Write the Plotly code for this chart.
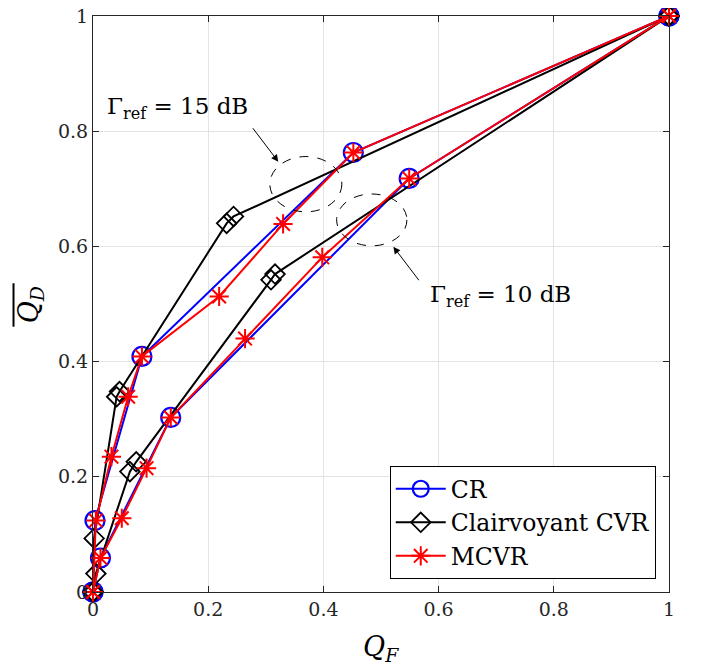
import plotly.graph_objects as go

# ---- data ----
cr15_x = [0, 0.0035, 0.085, 0.452, 1.0]
cr15_y = [0, 0.124, 0.409, 0.763, 1.0]
cr10_x = [0, 0.013, 0.135, 0.549, 1.0]
cr10_y = [0, 0.059, 0.303, 0.718, 1.0]

cvr15_x = [0, 0.002, 0.041, 0.046, 0.232, 0.244, 1.0]
cvr15_y = [0, 0.093, 0.339, 0.348, 0.640, 0.652, 1.0]
cvr10_x = [0, 0.005, 0.064, 0.075, 0.309, 0.316, 1.0]
cvr10_y = [0, 0.032, 0.209, 0.226, 0.542, 0.552, 1.0]

mcvr15_x = [0, 0.005, 0.032, 0.061, 0.085, 0.219, 0.330, 0.452, 1.0]
mcvr15_y = [0, 0.124, 0.235, 0.339, 0.409, 0.513, 0.639, 0.763, 1.0]
mcvr10_x = [0, 0.013, 0.050, 0.093, 0.135, 0.264, 0.398, 0.549, 1.0]
mcvr10_y = [0, 0.059, 0.128, 0.215, 0.303, 0.440, 0.581, 0.718, 1.0]

tick_vals = [0, 0.2, 0.4, 0.6, 0.8, 1.0]
tick_text = ["0", "0.2", "0.4", "0.6", "0.8", "1"]

series_names = ["CR", "Clairvoyant CVR", "MCVR"]
label15 = "Γ<sub>ref</sub> = 15 dB"
label10 = "Γ<sub>ref</sub> = 10 dB"

FONT = "DejaVu Serif"

fig = go.Figure()

styles = [
    (series_names[0], "#0000ff", dict(symbol="circle-open", size=19, line=dict(width=2.2, color="#0000ff")),
     [(cr15_x, cr15_y), (cr10_x, cr10_y)]),
    (series_names[1], "#000000", dict(symbol="diamond-open", size=15, line=dict(width=1.8, color="#000000")),
     [(cvr15_x, cvr15_y), (cvr10_x, cvr10_y)]),
    (series_names[2], "#ff0000", dict(symbol="asterisk-open", size=16, line=dict(width=2, color="#ff0000")),
     [(mcvr15_x, mcvr15_y), (mcvr10_x, mcvr10_y)]),
]

for name, color, marker, curves in styles:
    for i, (xs, ys) in enumerate(curves):
        fig.add_trace(go.Scatter(
            x=xs, y=ys, mode="lines+markers", name=name,
            legendgroup=name, showlegend=(i == 0), cliponaxis=False,
            line=dict(color=color, width=2),
            marker=dict(color=color, **marker),
        ))

# dashed ellipses
fig.add_shape(type="circle", xref="x", yref="y", x0=0.307, x1=0.432, y0=0.660, y1=0.756,
              line=dict(color="black", width=1, dash="dash"))
fig.add_shape(type="circle", xref="x", yref="y", x0=0.423, x1=0.545, y0=0.601, y1=0.691,
              line=dict(color="black", width=1, dash="dash"))

# annotation labels
fig.add_annotation(x=0.146, y=0.840, xref="x", yref="y", text=label15, showarrow=False,
                   font=dict(family=FONT, size=23, color="black"))
fig.add_annotation(x=0.707, y=0.514, xref="x", yref="y", text=label10, showarrow=False,
                   font=dict(family=FONT, size=23, color="black"))
# arrows
fig.add_annotation(x=0.3217, y=0.747, ax=0.2755, ay=0.8078, xref="x", yref="y", axref="x", ayref="y",
                   text="", showarrow=True, arrowhead=2, arrowsize=1.4, arrowwidth=1, arrowcolor="black")
fig.add_annotation(x=0.5214, y=0.5995, ax=0.5677, ay=0.5387, xref="x", yref="y", axref="x", ayref="y",
                   text="", showarrow=True, arrowhead=2, arrowsize=1.4, arrowwidth=1, arrowcolor="black")

# axis titles
fig.add_annotation(x=0.5, y=-0.132, xref="paper", yref="paper", showarrow=False,
                   text="<i>Q</i><sub><i>F</i></sub>", font=dict(family=FONT, size=27, color="black"))
fig.add_annotation(x=-0.143, y=0.498, xref="paper", yref="paper", showarrow=False, textangle=-90,
                   text="<i>Q</i><sub><i>D</i></sub>", font=dict(family=FONT, size=27, color="black"))
fig.add_shape(type="line", xref="paper", yref="paper", x0=-0.138, x1=-0.138, y0=0.4606, y1=0.536,
              line=dict(color="black", width=2))

axis_common = dict(
    range=[0, 1], tickvals=tick_vals, ticktext=tick_text, ticks="inside", ticklen=6,
    tickcolor="#262626", showline=True, linecolor="#262626", linewidth=1, mirror="ticks",
    showgrid=True, gridcolor="#e3e3e3", gridwidth=1, zeroline=False, automargin=False,
    ticklabeloverflow="allow",
    tickfont=dict(family=FONT, size=19, color="#262626"),
)

fig.update_layout(
    width=694, height=657,
    font=dict(family=FONT),
    margin=dict(l=85, r=33, t=8, b=73, autoexpand=False),
    paper_bgcolor="white", plot_bgcolor="white",
    xaxis=dict(**axis_common),
    yaxis=dict(**axis_common),
    legend=dict(x=0.977, y=0.0226, xanchor="right", yanchor="bottom",
                bordercolor="black", borderwidth=1, bgcolor="white",
                font=dict(family=FONT, size=23.5, color="black"),
                itemwidth=50, tracegroupgap=0),
    showlegend=True,
)

fig.write_html("out.html")
